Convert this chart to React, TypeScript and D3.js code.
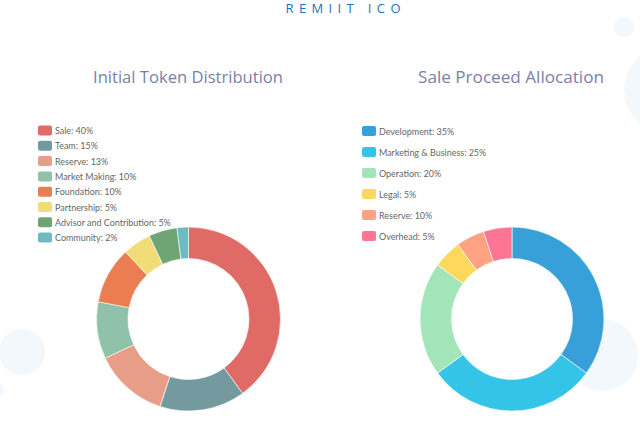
import React from "react";
import * as d3 from "d3";

const leftLabels = ["Sale", "Team", "Reserve", "Market Making", "Foundation", "Partnership", "Advisor and Contribution", "Community"];
const leftLegendPct = [40, 15, 13, 10, 10, 5, 5, 2];
const leftValues = [40, 15, 13, 10, 10, 5, 5, 2];
const leftColors = ["#e06b66", "#74999f", "#e89d88", "#8fc2a9", "#ea7d51", "#f0dd78", "#6fa474", "#6fb9c1"];

const rightLabels = ["Development", "Marketing & Business", "Operation", "Legal", "Reserve", "Overhead"];
const rightLegendPct = [35, 25, 20, 5, 10, 5];
// slice sizes as drawn in the picture
const rightValues = [35, 30, 20, 5, 5, 5];
const rightColors = ["#38a0d8", "#33c4e8", "#a1e5b9", "#fdd85d", "#fea282", "#fd7592"];

const titles = ["Initial Token Distribution", "Sale Proceed Allocation"];
const header = "REMIIT ICO";

type DonutProps = {
  labels: string[];
  pct: number[];
  values: number[];
  colors: string[];
  cx: number;
  cy: number;
  title: string;
  titleX: number;
  titleW: number;
  legendX: number;
  legendY: number;
  legendStep: number;
};

function Donut(p: DonutProps) {
  const pie = d3.pie<number>().sort(null).value((d) => d);
  const arcs = pie(p.values);
  const arc = d3.arc<d3.PieArcDatum<number>>().innerRadius(60.5).outerRadius(92);
  return (
    <g>
      <text
        x={p.titleX}
        y={83}
        textAnchor="middle"
        fontFamily="'Open Sans', sans-serif"
        fontWeight={500}
        fontSize={17}
        fill="#7b7fa8"
        textLength={p.titleW}
        lengthAdjust="spacingAndGlyphs"
      >
        {p.title}
      </text>
      {p.labels.map((l, i) => (
        <g key={l} transform={`translate(${p.legendX},${p.legendY + i * p.legendStep})`}>
          <rect x={0} y={-5} width={14} height={10} rx={2} fill={p.colors[i]} />
          <text
            transform="translate(17,3.5) scale(0.87,1)"
            fontFamily="Lato, sans-serif"
            fontSize={10.3}
            fill="#666"
          >
            {`${l}: ${p.pct[i]}%`}
          </text>
        </g>
      ))}
      <g transform={`translate(${p.cx},${p.cy})`}>
        {arcs.map((a, i) => (
          <path key={i} d={arc(a) || ""} fill={p.colors[i]} stroke="#fff" strokeWidth={0.6} />
        ))}
      </g>
    </g>
  );
}

export default function App() {
  return (
    <svg
      width={640}
      height={429}
      style={{ position: "absolute", left: 0, top: 0, background: "#fff" }}
    >
      <circle cx={22} cy={352} r={23} fill="#f3f8fd" />
      <circle cx={-2} cy={390} r={6} fill="#f3f8fd" />
      <circle cx={624} cy={27} r={10} fill="#f3f8fd" />
      <circle cx={668} cy={90} r={44} fill="#f3f8fd" />
      <circle cx={602} cy={355} r={36} fill="#f3f8fd" />
      <text
        x={346}
        y={13}
        textAnchor="middle"
        fontFamily="'Open Sans', sans-serif"
        fontWeight={500}
        fontSize={13}
        fill="#1f6fbf"
        textLength={121}
        lengthAdjust="spacing"
        letterSpacing={6}
      >
        {header}
      </text>
      <Donut
        labels={leftLabels}
        pct={leftLegendPct}
        values={leftValues}
        colors={leftColors}
        cx={188.5}
        cy={319}
        title={titles[0]}
        titleX={188}
        titleW={190}
        legendX={38}
        legendY={130.5}
        legendStep={15.3}
      />
      <Donut
        labels={rightLabels}
        pct={rightLegendPct}
        values={rightValues}
        colors={rightColors}
        cx={512}
        cy={319}
        title={titles[1]}
        titleX={511}
        titleW={186}
        legendX={362}
        legendY={131}
        legendStep={21}
      />
    </svg>
  );
}
